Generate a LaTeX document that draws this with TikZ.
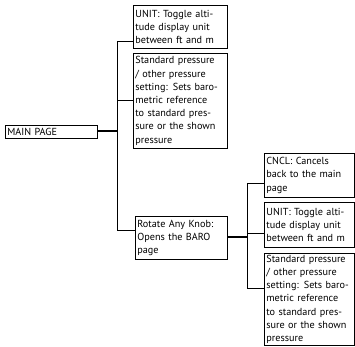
\documentclass[tikz,border=0pt]{standalone}
\usepackage{fontspec}
\setmainfont{PT Sans}
\begin{document}
\begin{tikzpicture}[x=1pt,y=-1pt,
  box/.style={draw, line width=0.7pt, anchor=north west, inner xsep=2pt, inner ysep=1pt,
    align=left, font=\fontsize{10.2}{13.2}\selectfont},
  link/.style={line width=0.7pt},
  trunk/.style={line width=1.1pt}]
\useasboundingbox (0,0) rectangle (355,346);
% root
\node[box, text width=88pt, minimum height=13pt] (main) at (5,125) {MAIN PAGE};
% first level
\node[box, text width=90pt, minimum height=43pt] (u1) at (133,5)
  {UNIT: Toggle alti-\\tude display unit\\between ft and m};
\node[box, text width=90pt, minimum height=95pt] (s1) at (133,53)
  {Standard pressure\\/ other pressure\\setting: Sets baro-\\metric reference\\to standard pres-\\sure or the shown\\pressure};
\node[box, text width=88pt, minimum height=43pt] (rot) at (135,216)
  {Rotate Any Knob:\\Opens the BARO\\page};
% second level
\node[box, text width=86pt, minimum height=44pt] (cncl) at (264,153)
  {CNCL: Cancels\\back to the main\\page};
\node[box, text width=86pt, minimum height=45pt] (u2) at (264,202)
  {UNIT: Toggle alti-\\tude display unit\\between ft and m};
\node[box, text width=86pt, minimum height=92pt] (s2) at (264,253)
  {Standard pressure\\/ other pressure\\setting: Sets baro-\\metric reference\\to standard pres-\\sure or the shown\\pressure};
% main bus
\coordinate (b1) at (117,41);
\coordinate (b2) at (117,100);
\coordinate (b3) at (117,230);
\coordinate (bm) at (117,131);
\draw[trunk] (main.east |- bm) -- (bm);
\draw[link] (b1) -- (b3);
\draw[link] (b1) -- (u1.west |- b1);
\draw[link] (b2) -- (s1.west |- b2);
\draw[link] (b3) -- (rot.west |- b3);
% sub bus
\coordinate (c1) at (247,183);
\coordinate (c2) at (247,233);
\coordinate (c3) at (247,288);
\coordinate (cm) at (247,237);
\draw[trunk] (rot.east |- cm) -- (cm);
\draw[link] (c1) -- (c3);
\draw[link] (c1) -- (cncl.west |- c1);
\draw[link] (c2) -- (u2.west |- c2);
\draw[link] (c3) -- (s2.west |- c3);
\end{tikzpicture}
\end{document}
